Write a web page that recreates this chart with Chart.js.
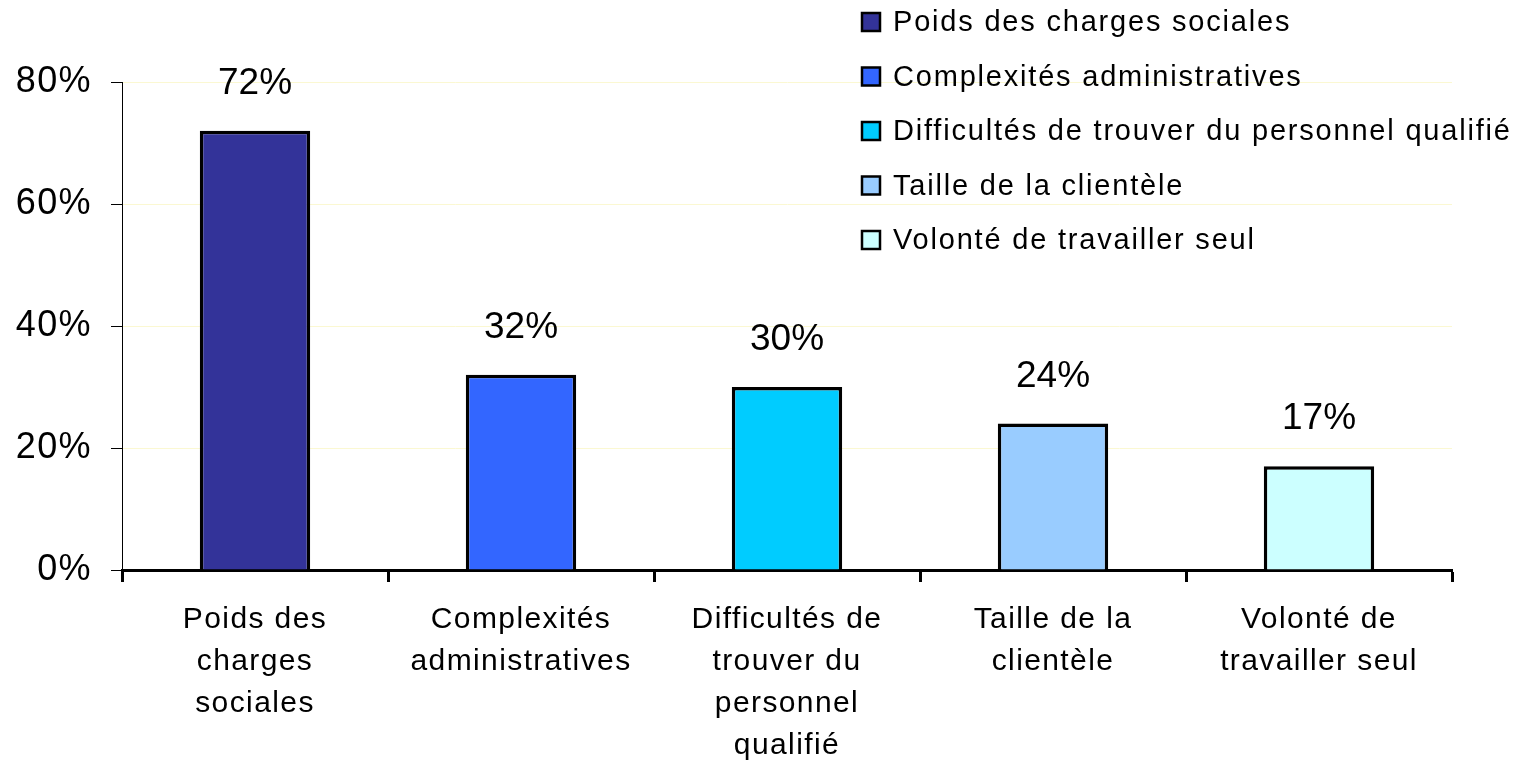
<!DOCTYPE html>
<html>
<head>
<meta charset="utf-8">
<script src="https://cdn.jsdelivr.net/npm/chart.js@4/dist/chart.umd.min.js"></script>
<style>
  html, body { margin: 0; padding: 0; background: #fff; }
  #wrap { width: 1520px; height: 764px; position: relative; }
</style>
</head>
<body>
<div id="wrap"><canvas id="chart"></canvas></div>
<script>
// données du graphique
const categories = [
    'Poids des charges sociales',
    'Complexités administratives',
    'Difficultés de trouver du personnel qualifié',
    'Taille de la clientèle',
    'Volonté de travailler seul'
];
const axisLabels = [
    ['Poids des', 'charges', 'sociales'],
    ['Complexités', 'administratives'],
    ['Difficultés de', 'trouver du', 'personnel', 'qualifié'],
    ['Taille de la', 'clientèle'],
    ['Volonté de', 'travailler seul']
];
const values = [72, 32, 30, 24, 17];
const barColors = ['#333399', '#3366FF', '#00CCFF', '#99CCFF', '#CCFFFF'];

const FONT = '"Liberation Sans", Arial, sans-serif';

// étiquettes de valeur au-dessus des barres
const valueLabels = {
    id: 'valueLabels',
    afterDatasetsDraw(chart) {
        const ctx = chart.ctx;
        const meta = chart.getDatasetMeta(0);
        ctx.save();
        ctx.font = '37px ' + FONT;
        ctx.fillStyle = '#000';
        ctx.textAlign = 'center';
        ctx.textBaseline = 'alphabetic';
        meta.data.forEach((bar, i) => {
            ctx.fillText(values[i] + '%', bar.x, bar.y - 37);
        });
        ctx.restore();
    }
};

// légende dessinée en haut à droite
const sideLegend = {
    id: 'sideLegend',
    afterDraw(chart) {
        const ctx = chart.ctx;
        const x0 = 862, y0 = 22, step = 54.5, box = 18;
        ctx.save();
        ctx.font = '29px ' + FONT;
        if ('letterSpacing' in ctx) ctx.letterSpacing = '1.8px';
        ctx.textBaseline = 'middle';
        ctx.textAlign = 'left';
        categories.forEach((label, i) => {
            const y = y0 + i * step;
            ctx.fillStyle = barColors[i];
            ctx.fillRect(x0, y - box / 2, box, box);
            ctx.lineWidth = 2.5;
            ctx.strokeStyle = '#000';
            ctx.strokeRect(x0, y - box / 2, box, box);
            ctx.fillStyle = '#000';
            ctx.fillText(label, x0 + 31, y + 1);
        });
        ctx.restore();
    }
};

// espacement des lettres pour les libellés des axes
const axisSpacing = {
    id: 'axisSpacing',
    beforeDraw(chart) {
        if ('letterSpacing' in chart.ctx) chart.ctx.letterSpacing = '1.4px';
    },
    beforeDatasetsDraw(chart) {
        if ('letterSpacing' in chart.ctx) chart.ctx.letterSpacing = '0px';
    }
};

new Chart(document.getElementById('chart'), {
    type: 'bar',
    data: {
        labels: axisLabels,
        datasets: [{
            data: values,
            backgroundColor: barColors,
            borderColor: '#000',
            borderWidth: 3.5,
            categoryPercentage: 1,
            barPercentage: 0.415
        }]
    },
    options: {
        responsive: true,
        maintainAspectRatio: false,
        animation: false,
        layout: { padding: { top: 82, right: 68, left: 0, bottom: 0 } },
        plugins: {
            legend: { display: false },
            tooltip: { enabled: false }
        },
        scales: {
            x: {
                afterFit: s => { s.height = 194; },
                border: { color: '#000', width: 3 },
                grid: {
                    drawOnChartArea: false,
                    tickLength: 12,
                    tickColor: '#000',
                    tickWidth: 3
                },
                ticks: {
                    color: '#000',
                    font: { family: FONT, size: 30, lineHeight: 1.4 },
                    padding: 17,
                    maxRotation: 0,
                    autoSkip: false
                }
            },
            y: {
                min: 0,
                max: 80,
                afterFit: s => { s.width = 122; },
                border: { color: '#000', width: 1 },
                grid: {
                    color: '#fbf8d2',
                    lineWidth: 1,
                    tickLength: 11,
                    tickColor: '#000',
                    tickWidth: 1
                },
                ticks: {
                    stepSize: 20,
                    color: '#000',
                    font: { family: FONT, size: 36 },
                    padding: 19,
                    callback: v => v + '%'
                }
            }
        }
    },
    plugins: [axisSpacing, valueLabels, sideLegend]
});
</script>
</body>
</html>
